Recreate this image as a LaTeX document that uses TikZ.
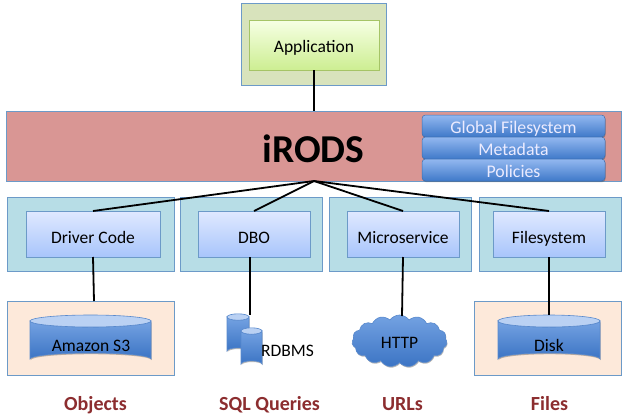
\documentclass[tikz,border=0pt]{standalone}
\usepackage{fontspec}
\setmainfont{Carlito}
\usetikzlibrary{shadows,shapes.symbols}
\definecolor{edgeblue}{HTML}{6C9AC8}
\definecolor{redfill}{HTML}{D99694}
\definecolor{tealfill}{HTML}{B7DDE6}
\definecolor{greenfill}{HTML}{D8E3BC}
\definecolor{peach}{HTML}{FDE9DA}
\definecolor{labelred}{HTML}{8C2D2F}
\definecolor{pilltop}{HTML}{93B8F0}
\definecolor{pillbot}{HTML}{3F79C9}
\definecolor{cyltop}{HTML}{74A2E2}
\definecolor{cylbot}{HTML}{3B74C4}
\definecolor{cylcap}{HTML}{BAD1F3}
\definecolor{boxtop}{HTML}{E0E9FF}
\definecolor{boxbot}{HTML}{A8C5FB}
\definecolor{apptop}{HTML}{F6FFE4}
\definecolor{appbot}{HTML}{CDEE92}
\definecolor{appedge}{HTML}{A5C466}
\definecolor{pilledge}{HTML}{3E6FAF}
\tikzset{
  softshade/.style={drop shadow={shadow xshift=0.6pt,shadow yshift=-1.2pt,opacity=.4,fill=black!70}},
  panel/.style={draw=edgeblue,line width=.8pt,inner sep=0pt,outer sep=0pt,softshade},
  redpanel/.style={panel,fill=redfill},
  tealpanel/.style={panel,fill=tealfill},
  greenpanel/.style={panel,fill=greenfill},
  peachpanel/.style={panel,fill=peach},
  bluebox/.style={draw=edgeblue,line width=.8pt,top color=boxtop,bottom color=boxbot,
     inner sep=0pt,outer sep=0pt,softshade,text height=18pt,text depth=0pt,font=\fontsize{17.5}{20}\selectfont},
  greenbox/.style={draw=appedge,line width=1pt,top color=apptop,bottom color=appbot,
     inner sep=0pt,outer sep=0pt,softshade,text height=15.4pt,text depth=0pt,font=\fontsize{17.5}{20}\selectfont},
  pill/.style={draw=pilledge,line width=.5pt,top color=pilltop,bottom color=pillbot,rounded corners=3.5pt,
     minimum width=183pt,minimum height=22pt,inner sep=0pt,outer sep=0pt,text=white!92!blue,
     softshade,text height=14pt,text depth=0pt,font=\fontsize{17.8}{20}\selectfont},
  cylbody/.style={draw=cylbot!85!white,line width=.6pt,top color=cyltop,bottom color=cylbot,softshade},
  cylcapst/.style={draw=cylbot!85!white,line width=.6pt,fill=cylcap},
  cyltext/.style={inner sep=0pt,anchor=base,font=\fontsize{17.5}{20}\selectfont},
  wire/.style={draw=black,line width=1.8pt},
  caption/.style={text=labelred,inner sep=0pt,anchor=base,font=\fontsize{20}{22}\selectfont\bfseries},
}
\newcommand{\mycyl}[5]{% x1,y1,x2,y2,ry
  \path[cylbody] (#1,#2) -- (#1,#4) arc[start angle=180,end angle=360,x radius={(#3-#1)/2},y radius=#5] -- (#3,#2) arc[start angle=0,end angle=180,x radius={(#3-#1)/2},y radius=#5] -- cycle;
  \path[cylcapst] ({(#1+#3)/2},#2) ellipse[x radius={(#3-#1)/2},y radius=#5];
}
\begin{document}
\begin{tikzpicture}[x=1pt,y=-1pt]
\useasboundingbox[fill=white] (0,0) rectangle (628,415);
% panels
\node[greenpanel,minimum width=145pt,minimum height=82pt] (appouter) at (313.5,44) {};
\node[greenbox,minimum width=130pt,minimum height=50pt] (app) at (314,45) {Application};
\node[redpanel,minimum width=615pt,minimum height=70pt] (irods) at (313.5,146) {};
\node[font=\fontsize{39.5}{44}\selectfont\bfseries,inner sep=0pt,anchor=base] (irodstext) at (313.5,162) {iRODS};
\node[pill] (gfs) at (513.5,126) {Global Filesystem};
\node[pill] (meta) at (513.5,148) {Metadata};
\node[pill] (pol) at (513.5,170) {Policies};
\node[tealpanel,minimum width=167pt,minimum height=74pt] (t1) at (90.5,234) {};
\node[tealpanel,minimum width=142pt,minimum height=74pt] (t2) at (251,234) {};
\node[tealpanel,minimum width=142pt,minimum height=74pt] (t3) at (400,234) {};
\node[tealpanel,minimum width=142pt,minimum height=74pt] (t4) at (550,234) {};
\node[bluebox,minimum width=134pt,minimum height=46pt] (driver) at (93,234) {Driver Code};
\node[bluebox,minimum width=112pt,minimum height=46pt] (dbo) at (254,234) {DBO};
\node[bluebox,minimum width=112pt,minimum height=46pt] (micro) at (403,234) {Microservice};
\node[bluebox,minimum width=112pt,minimum height=46pt] (fsys) at (549,234) {Filesystem};
\node[peachpanel,minimum width=167pt,minimum height=74pt] (p1) at (90.5,338) {};
\node[peachpanel,minimum width=147pt,minimum height=74pt] (p2) at (547.5,338) {};
% cylinders
\mycyl{30}{321}{151}{359}{6}
\node[cyltext] (s3) at (91,351) {Amazon S3};
\mycyl{498}{321}{600}{359}{6}
\node[cyltext] (disk) at (549,351) {Disk};
\mycyl{227}{317}{249}{351}{3.2}
\mycyl{241}{331}{262}{364}{3.2}
\node[cyltext] (rdbms) at (287.5,356) {RDBMS};
\coordinate (dbtop) at (250,315);
\coordinate (disktop) at (549,315);
\coordinate (s3top) at (94,301);
% cloud
\node[cloud,cloud puffs=15,cloud puff arc=110,aspect=1.8,draw=cylbot!85!white,line width=.6pt,top color=cyltop,bottom color=cylbot,
  minimum width=95pt,minimum height=52pt,inner sep=0pt,softshade,text height=14pt,text depth=0pt,font=\fontsize{17.5}{20}\selectfont] (http) at (399.5,341) {HTTP\hspace{6pt}};
% connectors
\coordinate (hub) at (314,181);
\draw[wire] (app.south) -- (irods.north -| app.south);
\draw[wire] (hub) -- (driver.north);
\draw[wire] (hub) -- (dbo.north);
\draw[wire] (hub) -- (micro.north);
\draw[wire] (hub) -- (fsys.north);
\draw[wire] (driver.south) -- (s3top);
\draw[wire] (dbo.south -| dbtop) -- (dbtop);
\draw[wire] (micro.south) -- (402,316);
\draw[wire] (fsys.south) -- (disktop);
% captions
\node[caption] (c1) at (95.5,410) {Objects};
\node[caption] (c2) at (269.5,410) {SQL Queries};
\node[caption] (c3) at (402.5,410) {URLs};
\node[caption] (c4) at (549.5,410) {Files};
\end{tikzpicture}
\end{document}
